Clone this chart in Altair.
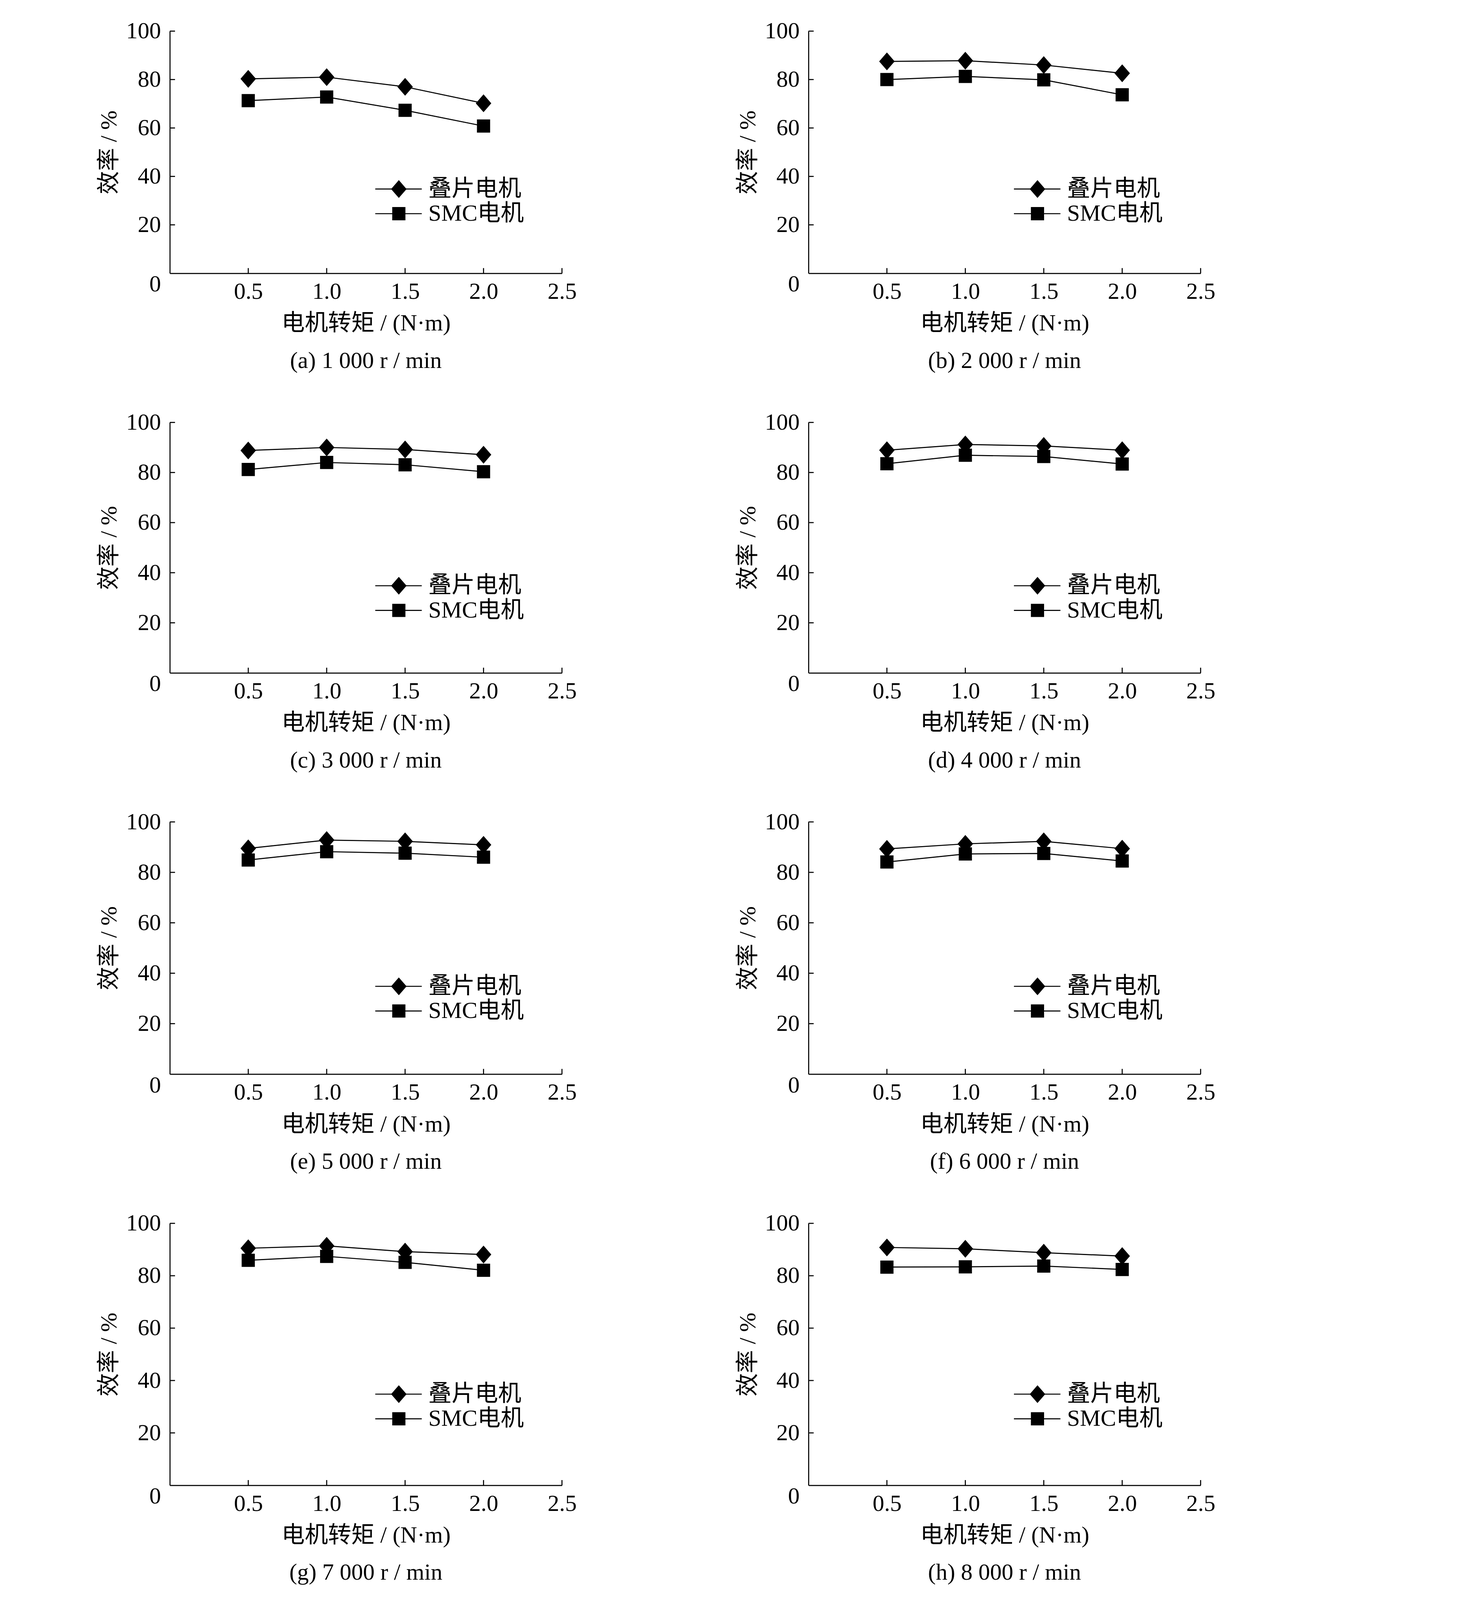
import altair as alt
import pandas as pd

# ---------------- data ----------------
TORQUE = [0.5, 1.0, 1.5, 2.0]
SERIES = ["叠片电机", "SMC电机"]
X_TICKS = [0.5, 1.0, 1.5, 2.0, 2.5]
Y_TICKS = [0, 20, 40, 60, 80, 100]
CAPTIONS = [
    "(a) 1 000 r / min", "(b) 2 000 r / min",
    "(c) 3 000 r / min", "(d) 4 000 r / min",
    "(e) 5 000 r / min", "(f) 6 000 r / min",
    "(g) 7 000 r / min", "(h) 8 000 r / min",
]
lam_1000 = [80.3, 81.0, 77.0, 70.2]
smc_1000 = [71.3, 72.8, 67.3, 60.8]
lam_2000 = [87.5, 87.8, 86.0, 82.6]
smc_2000 = [80.0, 81.3, 79.9, 73.7]
lam_3000 = [88.8, 90.0, 89.2, 87.1]
smc_3000 = [81.2, 84.0, 83.1, 80.3]
lam_4000 = [88.9, 91.2, 90.6, 88.9]
smc_4000 = [83.5, 86.9, 86.4, 83.4]
lam_5000 = [89.5, 92.8, 92.3, 90.9]
smc_5000 = [84.9, 88.2, 87.6, 86.0]
lam_6000 = [89.3, 91.3, 92.3, 89.4]
smc_6000 = [84.1, 87.3, 87.5, 84.5]
lam_7000 = [90.5, 91.4, 89.2, 88.1]
smc_7000 = [85.9, 87.4, 85.1, 82.1]
lam_8000 = [90.8, 90.3, 88.8, 87.5]
smc_8000 = [83.3, 83.4, 83.7, 82.4]

LAM = [lam_1000, lam_2000, lam_3000, lam_4000, lam_5000, lam_6000, lam_7000, lam_8000]
SMC = [smc_1000, smc_2000, smc_3000, smc_4000, smc_5000, smc_6000, smc_7000, smc_8000]

# ---------------- style (all sizes scaled by K) ----------------
K = 1 / 1.126


def k(v):
    return round(v * K, 1)


FONT = "Liberation Serif, Noto Sans CJK SC"
FS = k(67)
W = k(1130)
ROW_H = [k(698), k(722), k(727), k(755)]
DIAMOND = "M0,-1.15L1,0L0,1.15L-1,0Z"
SQUARE = "M-0.85,-0.85L0.85,-0.85L0.85,0.85L-0.85,0.85Z"
SHAPES = [DIAMOND, SQUARE]
MSIZE = round(2000 * K * K)
TICK_LEN = k(15)
LW = k(3)


def panel(lam, smc, caption, h):
    df = pd.DataFrame({
        "torque": TORQUE * 2,
        "eff": lam + smc,
        "series": [SERIES[0]] * len(TORQUE) + [SERIES[1]] * len(TORQUE),
    })
    xs = alt.Scale(domain=[0, 2.5], nice=False, zero=True)
    ys = alt.Scale(domain=[0, 100], nice=False, zero=True)
    xax = alt.Axis(values=X_TICKS, format=".1f", title="电机转矩 / (N·m)",
                   labelPadding=k(20), titlePadding=k(26), labelFlush=False)
    yax = alt.Axis(values=Y_TICKS, title="效率 / %", labelPadding=k(26),
                   titlePadding=k(14),
                   labelOffset={"condition": {"test": "datum.value === 0", "value": k(32)}, "value": 0})
    base = alt.Chart(df)
    lines = base.mark_line(color="black", strokeWidth=LW).encode(
        x=alt.X("torque:Q", scale=xs, axis=xax),
        y=alt.Y("eff:Q", scale=ys, axis=yax),
        detail="series:N",
    )
    pts = base.mark_point(filled=True, color="black", opacity=1, size=MSIZE, strokeWidth=0).encode(
        x=alt.X("torque:Q", scale=xs, axis=xax),
        y=alt.Y("eff:Q", scale=ys, axis=yax),
        shape=alt.Shape("series:N", scale=alt.Scale(domain=SERIES, range=SHAPES), legend=None),
    )
    xt = alt.Chart(pd.DataFrame({"torque": X_TICKS})).mark_rule(color="black", strokeWidth=LW).encode(
        x=alt.X("torque:Q", scale=xs, axis=xax),
        y=alt.value(h), y2=alt.value(h - TICK_LEN),
    )
    yt = alt.Chart(pd.DataFrame({"eff": Y_TICKS[1:]})).mark_rule(color="black", strokeWidth=LW).encode(
        y=alt.Y("eff:Q", scale=ys, axis=yax),
        x=alt.value(0), x2=alt.value(TICK_LEN),
    )
    layers = [lines, pts, xt, yt]
    for i, name in enumerate(SERIES):
        ly = round(h * 0.652 + i * k(71), 1)
        ld = alt.Chart(pd.DataFrame({"label": [name]}))
        layers.append(ld.mark_rule(color="black", strokeWidth=LW).encode(
            x=alt.value(k(592)), x2=alt.value(k(726)), y=alt.value(ly)))
        layers.append(ld.mark_point(filled=True, color="black", opacity=1, size=MSIZE,
                                    strokeWidth=0, shape=SHAPES[i]).encode(
            x=alt.value(k(660)), y=alt.value(ly)))
        layers.append(ld.mark_text(align="left", baseline="middle", font=FONT, fontSize=FS,
                                   color="black").encode(
            x=alt.value(k(745)), y=alt.value(ly), text="label:N"))
    return alt.layer(*layers).properties(
        width=W, height=h,
        title=alt.TitleParams(caption, orient="bottom", offset=k(42), font=FONT,
                              fontSize=FS, fontWeight="normal", color="black"),
    )


rows = []
for r in range(4):
    left = panel(LAM[2 * r], SMC[2 * r], CAPTIONS[2 * r], ROW_H[r])
    right = panel(LAM[2 * r + 1], SMC[2 * r + 1], CAPTIONS[2 * r + 1], ROW_H[r])
    rows.append(alt.hconcat(left, right, spacing=k(460)))

chart = alt.vconcat(*rows, spacing=k(110)).properties(
    padding={"left": k(272), "top": k(47), "right": 10, "bottom": 10},
    background="white",
).configure_view(stroke=None).configure_axis(
    domainColor="black", domainWidth=LW, grid=False, ticks=False, tickSize=0,
    labelFont=FONT, titleFont=FONT, labelFontSize=FS, titleFontSize=FS,
    labelColor="black", titleColor="black", titleFontWeight="normal",
)

chart.save("out.html", embed_options={"renderer": "svg", "actions": False})
